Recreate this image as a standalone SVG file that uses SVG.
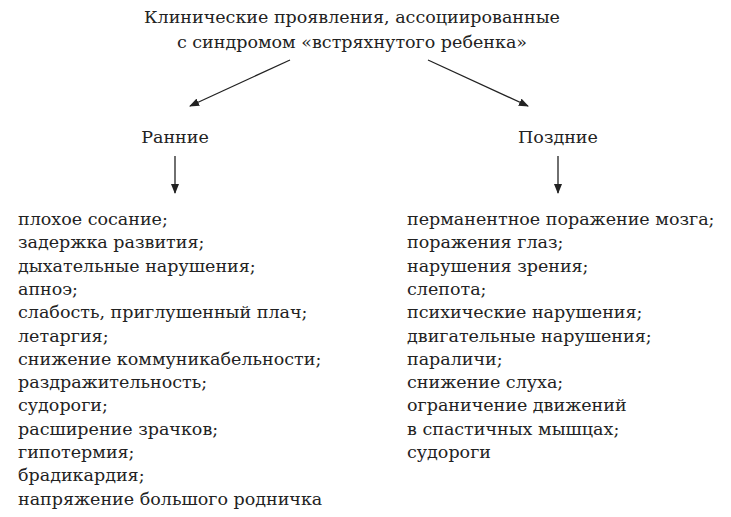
<svg xmlns="http://www.w3.org/2000/svg" width="731" height="517" viewBox="0 0 731 517">
<defs><marker id="a" markerWidth="10" markerHeight="8" refX="9" refY="4" orient="auto" markerUnits="userSpaceOnUse"><path d="M0,0 L10,4 L0,8 z" fill="#222"/></marker></defs>
<style>text{font-family:"DejaVu Serif","Liberation Serif",serif;font-size:17.5px;fill:#222}.c{text-anchor:middle}line{stroke:#222;stroke-width:1.3;marker-end:url(#a)}</style>
<rect width="731" height="517" fill="#fff"/>
<g id="title"><text class="c" x="352" y="23">Клинические проявления, ассоциированные</text><text class="c" x="352" y="48">с синдромом «встряхнутого ребенка»</text></g>
<g id="early"><text class="c" x="175" y="143">Ранние</text></g>
<g id="late"><text class="c" x="558" y="143">Поздние</text></g>
<g id="connectors"><line x1="290" y1="60" x2="190" y2="106"/><line x1="428" y1="60" x2="528" y2="106"/><line x1="175" y1="156" x2="175" y2="193"/><line x1="558" y1="156" x2="558" y2="193"/></g>
<g id="early-list">
<text x="18" y="225">плохое сосание;</text>
<text x="18" y="248.3">задержка развития;</text>
<text x="18" y="271.6">дыхательные нарушения;</text>
<text x="18" y="294.9">апноэ;</text>
<text x="18" y="318.2">слабость, приглушенный плач;</text>
<text x="18" y="341.5">летаргия;</text>
<text x="18" y="364.8">снижение коммуникабельности;</text>
<text x="18" y="388.1">раздражительность;</text>
<text x="18" y="411.4">судороги;</text>
<text x="18" y="434.7">расширение зрачков;</text>
<text x="18" y="458">гипотермия;</text>
<text x="18" y="481.3">брадикардия;</text>
<text x="18" y="504.6">напряжение большого родничка</text>
</g>
<g id="late-list">
<text x="407" y="225">перманентное поражение мозга;</text>
<text x="407" y="248.3">поражения глаз;</text>
<text x="407" y="271.6">нарушения зрения;</text>
<text x="407" y="294.9">слепота;</text>
<text x="407" y="318.2">психические нарушения;</text>
<text x="407" y="341.5">двигательные нарушения;</text>
<text x="407" y="364.8">параличи;</text>
<text x="407" y="388.1">снижение слуха;</text>
<text x="407" y="411.4">ограничение движений</text>
<text x="407" y="434.7">в спастичных мышцах;</text>
<text x="407" y="458">судороги</text>
</g>
</svg>
